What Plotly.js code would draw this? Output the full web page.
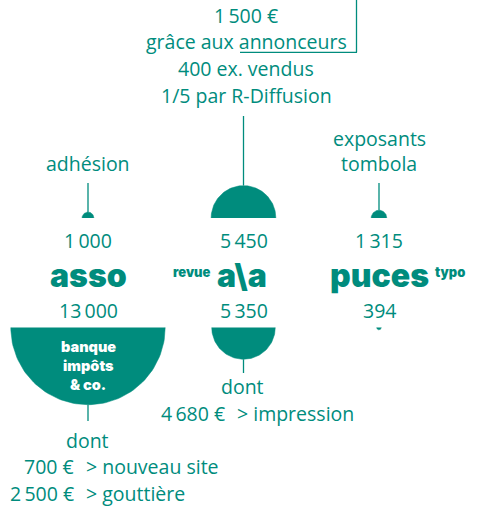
<!DOCTYPE html>
<html><head><meta charset="utf-8">
<script src="https://cdn.plot.ly/plotly-3.0.1.min.js"></script>
<style>html,body{margin:0;padding:0;background:#fff}#chart{width:479px;height:510px}</style>
</head><body><div id="chart"></div><script>
// ---- data ----
const categories = ['asso', 'a\\a', 'puces'];
const categoryPrefix = ['', 'revue', ''];
const categorySuffix = ['', '', 'typo'];
const recettes = [1000, 5450, 1315];
const depenses = [13000, 5350, 394];
const recettesLabels = ['1\u2009000', '5\u2009450', '1\u2009315'];
const depensesLabels = ['13\u2009000', '5\u2009350', '394'];
const recettesNotes = [['adhésion'], ['1\u2009500 €', 'grâce aux annonceurs', '400 ex. vendus', '1/5 par R-Diffusion'], ['exposants', 'tombola']];
const depensesInner = ['banque', 'impôts', '& co.'];
const assoDontAmounts = ['700 €', '2\u2009500 €'];
const assoDontItems = ['> nouveau site', '> gouttière'];
const revueDontAmounts = ['4\u2009680 €'];
const revueDontItems = ['> impression'];

// ---- layout constants ----
const TEAL = '#008c7d';
const FONT = 'Open Sans';
const cx = [88, 243.5, 379];
const topBase = 218, botBase = 327.5;
const k = 77.2 / 13000; // px radius per euro

const traces = [];
function semi(c, r, base, dir) {
  const xs = [], ys = [];
  const n = 80;
  for (let i = 0; i <= n; i++) {
    const t = Math.PI * i / n;
    xs.push(c + r * Math.cos(t));
    ys.push(base - dir * r * Math.sin(t));
  }
  traces.push({x: xs, y: ys, type: 'scatter', mode: 'lines', fill: 'toself',
    fillcolor: TEAL, line: {color: TEAL, width: 0.5}, hoverinfo: 'skip', showlegend: false});
}
function seg(x0, y0, x1, y1) {
  traces.push({x: [x0, x1], y: [y0, y1], type: 'scatter', mode: 'lines',
    line: {color: TEAL, width: 1.3}, hoverinfo: 'skip', showlegend: false});
}
recettes.forEach((v, i) => semi(cx[i], v * k, topBase, 1));
depenses.forEach((v, i) => semi(cx[i], v * k, botBase, -1));

// stems
seg(cx[0], 183, cx[0], topBase - recettes[0] * k);
seg(cx[1], 116, cx[1], topBase - recettes[1] * k);
seg(cx[2], 183, cx[2], topBase - recettes[2] * k);
seg(cx[0], botBase + depenses[0] * k, cx[0], 421);
seg(cx[1], botBase + depenses[1] * k, cx[1], 373);
// bracket around annonceurs
seg(356.5, 0, 356.5, 52.3);
seg(240, 52.3, 357, 52.3);

const ann = [];
function txt(x, y, s, size, opts) {
  opts = opts || {};
  ann.push({x: x, y: y, xref: 'x', yref: 'y', text: s, showarrow: false,
    xanchor: opts.xa || 'center', yanchor: 'middle',
    font: {family: opts.family || FONT, size: size, color: opts.color || TEAL, weight: opts.weight || 400}});
}
const FS = 19.5;
// top notes
txt(cx[0], 163.3, recettesNotes[0][0], FS);
const revY = [15, 41.7, 68.3, 95];
recettesNotes[1].forEach((s, j) => txt(246, revY[j], s, FS));
txt(cx[2], 138.3, recettesNotes[2][0], FS);
txt(cx[2], 163.3, recettesNotes[2][1], FS);
// values
recettesLabels.forEach((s, i) => txt(cx[i], 240, s, FS));
depensesLabels.forEach((s, i) => txt(cx[i], 310, s, FS));
// category names
const HF = 'Inter';
const HS = 32;
txt(cx[0], 275, categories[0], HS, {family: HF, weight: 900});
txt(242, 275, categories[1], HS, {family: HF, weight: 900});
txt(191.5, 272, categoryPrefix[1], 13, {family: HF, weight: 900});
txt(379, 275, categories[2], HS, {family: HF, weight: 900});
txt(450, 272, categorySuffix[2], 13, {family: HF, weight: 900});
// inner labels
const innerY = [346.7, 365.5, 384.5];
depensesInner.forEach((s, j) => txt(cx[0], innerY[j], s, 14.5, {family: HF, weight: 900, color: '#ffffff'}));
// dont lines
txt(242, 386.7, 'dont', FS);
txt(227, 413.3, revueDontAmounts[0], FS, {xa: 'right'});
txt(235, 413.3, revueDontItems[0], FS, {xa: 'left'});
txt(87.5, 440, 'dont', FS);
const dY = [466.7, 493.3];
assoDontAmounts.forEach((s, j) => txt(76, dY[j], s, FS, {xa: 'right'}));
assoDontItems.forEach((s, j) => txt(84, dY[j], s, FS, {xa: 'left'}));

const layout = {
  width: 479, height: 510, margin: {l: 0, r: 0, t: 0, b: 0},
  paper_bgcolor: '#ffffff', plot_bgcolor: '#ffffff',
  xaxis: {range: [0, 479], visible: false, fixedrange: true},
  yaxis: {range: [510, 0], visible: false, fixedrange: true},
  annotations: ann, showlegend: false
};
Plotly.newPlot('chart', traces, layout, {staticPlot: true, displayModeBar: false});
</script></body></html>
